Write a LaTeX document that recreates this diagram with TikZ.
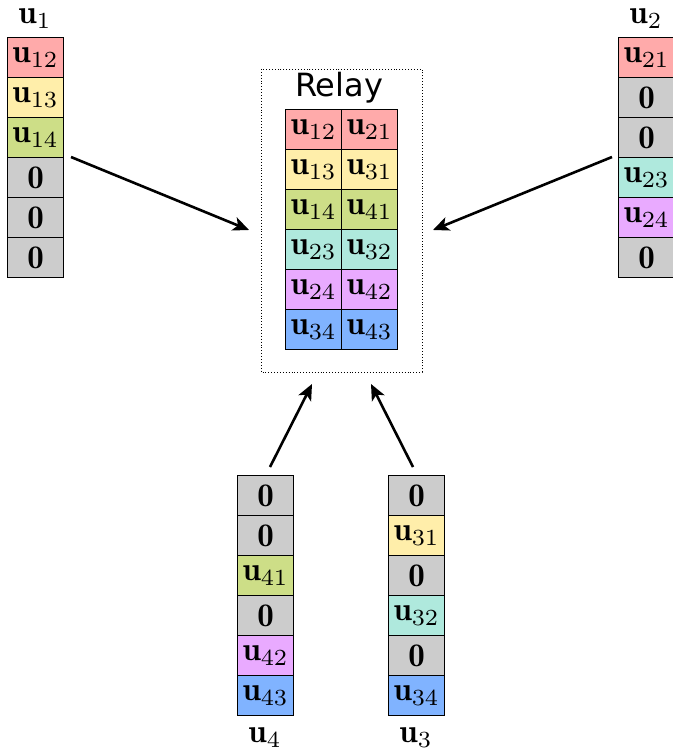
\documentclass[tikz,border=0pt]{standalone}
\usepackage{graphicx}
\usepackage{fontspec}
\newfontfamily\relayfont{DejaVu Sans}
\usetikzlibrary{arrows.meta}
\definecolor{cr}{HTML}{FFAAAA}
\definecolor{cy}{HTML}{FFEEAA}
\definecolor{cg}{HTML}{CDDE87}
\definecolor{ct}{HTML}{AFE9DD}
\definecolor{cp}{HTML}{E9AAFF}
\definecolor{cb}{HTML}{80B3FF}
\definecolor{cz}{HTML}{CCCCCC}
\tikzset{
  cell/.style={draw=black, line width=1.3pt, minimum width=56pt, minimum height=40pt, inner sep=0pt, anchor=north west},
  lab/.style={inner sep=0pt},
  conn/.style={line width=2.6pt, -{Stealth[length=16pt,width=14pt,inset=4pt]}},
}
\newcommand{\U}[1]{\scalebox{3.3}{$\mathbf{u}_{#1}$}}
\newcommand{\Z}{\scalebox{3.3}{$\mathbf{0}$}}
\begin{document}
\begin{tikzpicture}[x=1pt,y=-1pt]
\useasboundingbox (0,0) rectangle (672,754);
% column u1
\node[cell,fill=cr] (a1) at (7,37) {\U{12}};
\node[cell,fill=cy] (a2) at (7,77) {\U{13}};
\node[cell,fill=cg] (a3) at (7,117) {\U{14}};
\node[cell,fill=cz] (a4) at (7,157) {\Z};
\node[cell,fill=cz] (a5) at (7,197) {\Z};
\node[cell,fill=cz] (a6) at (7,237) {\Z};
\node[lab] (la) at (35,19) {\U{1}};
% column u2
\node[cell,fill=cr] (b1) at (618,37) {\U{21}};
\node[cell,fill=cz] (b2) at (618,77) {\Z};
\node[cell,fill=cz] (b3) at (618,117) {\Z};
\node[cell,fill=ct] (b4) at (618,157) {\U{23}};
\node[cell,fill=cp] (b5) at (618,197) {\U{24}};
\node[cell,fill=cz] (b6) at (618,237) {\Z};
\node[lab] (lb) at (646,19) {\U{2}};
% relay
\draw[dotted, line width=0.9pt] (261,69) rectangle (422,372);
\node[font=\relayfont\fontsize{32}{36}\selectfont, inner sep=0pt] (rl) at (339,88) {Relay};
\node[cell,fill=cr] (r11) at (285,109) {\U{12}};
\node[cell,fill=cr] (r12) at (341,109) {\U{21}};
\node[cell,fill=cy] (r21) at (285,149) {\U{13}};
\node[cell,fill=cy] (r22) at (341,149) {\U{31}};
\node[cell,fill=cg] (r31) at (285,189) {\U{14}};
\node[cell,fill=cg] (r32) at (341,189) {\U{41}};
\node[cell,fill=ct] (r41) at (285,229) {\U{23}};
\node[cell,fill=ct] (r42) at (341,229) {\U{32}};
\node[cell,fill=cp] (r51) at (285,269) {\U{24}};
\node[cell,fill=cp] (r52) at (341,269) {\U{42}};
\node[cell,fill=cb] (r61) at (285,309) {\U{34}};
\node[cell,fill=cb] (r62) at (341,309) {\U{43}};
% column u4
\node[cell,fill=cz] (d1) at (237,475) {\Z};
\node[cell,fill=cz] (d2) at (237,515) {\Z};
\node[cell,fill=cg] (d3) at (237,555) {\U{41}};
\node[cell,fill=cz] (d4) at (237,595) {\Z};
\node[cell,fill=cp] (d5) at (237,635) {\U{42}};
\node[cell,fill=cb] (d6) at (237,675) {\U{43}};
\node[lab] (ld) at (265,738) {\U{4}};
% column u3
\node[cell,fill=cz] (c1) at (388,475) {\Z};
\node[cell,fill=cy] (c2) at (388,515) {\U{31}};
\node[cell,fill=cz] (c3) at (388,555) {\Z};
\node[cell,fill=ct] (c4) at (388,595) {\U{32}};
\node[cell,fill=cz] (c5) at (388,635) {\Z};
\node[cell,fill=cb] (c6) at (388,675) {\U{34}};
\node[lab] (lc) at (416,738) {\U{3}};
% arrows
\coordinate (s1) at (71,157); \coordinate (t1) at (249,230);
\coordinate (s2) at (612,157); \coordinate (t2) at (433,230);
\coordinate (s4) at (270,467); \coordinate (t4) at (312,384);
\coordinate (s3) at (413,467); \coordinate (t3) at (371,384);
\draw[conn] (s1) -- (t1);
\draw[conn] (s2) -- (t2);
\draw[conn] (s4) -- (t4);
\draw[conn] (s3) -- (t3);
\end{tikzpicture}
\end{document}
